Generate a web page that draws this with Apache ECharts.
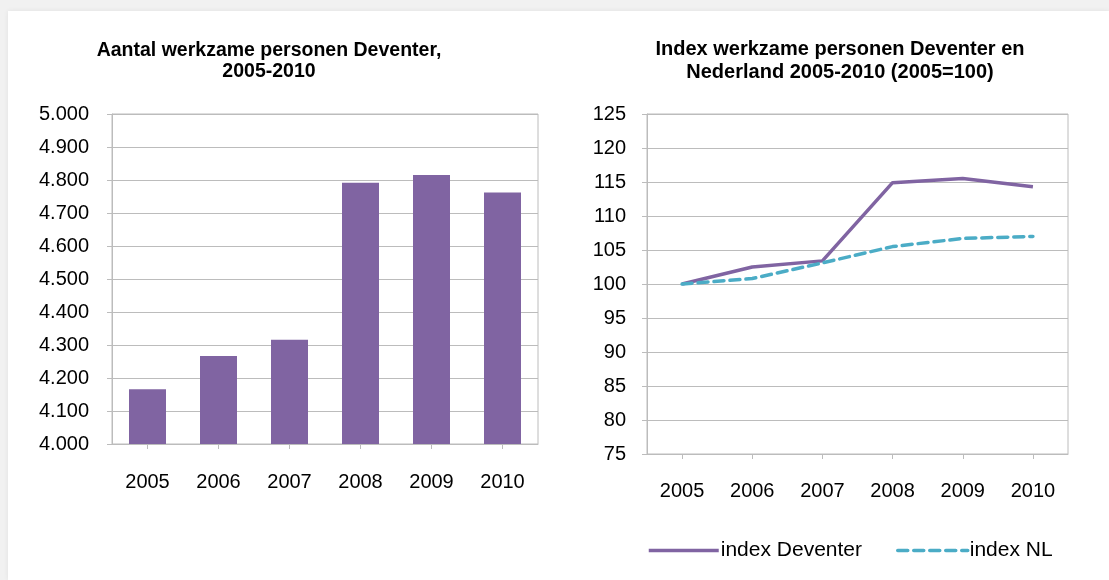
<!DOCTYPE html>
<html>
<head>
<meta charset="utf-8">
<script src="https://cdn.jsdelivr.net/npm/echarts@6/dist/echarts.min.js"></script>
<style>
  html, body { margin: 0; padding: 0; width: 1109px; height: 580px; background: #f1f1f1; overflow: hidden; }
  #panel { position: absolute; left: 8px; top: 11px; width: 1101px; height: 569px; background: #ffffff; box-shadow: 0 0 5px rgba(0,0,0,0.07); }
  #chart { position: absolute; left: 0; top: 0; width: 1109px; height: 580px; }
</style>
</head>
<body>
<div id="panel"></div>
<div id="chart"></div>
<script>
const years = ['2005', '2006', '2007', '2008', '2009', '2010'];
const werkzamePersonen = [4166, 4267, 4316, 4792, 4815, 4762];
const indexDeventer = [100, 102.5, 103.4, 114.9, 115.5, 114.3];
const indexNL = [100, 100.8, 103.1, 105.5, 106.7, 107.0];
const leftTitle = 'Aantal werkzame personen Deventer,\n2005-2010';
const rightTitle = 'Index werkzame personen Deventer en\nNederland 2005-2010 (2005=100)';

const FONT = 'Liberation Sans, Arial, sans-serif';
const gridGray = '#bcbcbc';
const purple = '#8064a2';
const teal = '#4bacc6';

function fmtThousands(v) {
  const k = Math.floor(v / 1000);
  const r = String(Math.round(v % 1000)).padStart(3, '0');
  return k + '.' + r;
}

const chart = echarts.init(document.getElementById('chart'), null, { renderer: 'canvas' });

const catAxisCommon = {
  type: 'category',
  boundaryGap: true,
  axisLine: { show: true, lineStyle: { color: gridGray, width: 1 } },
  axisTick: { show: true, alignWithLabel: true, length: 5, lineStyle: { color: gridGray } },
  axisLabel: { color: '#000', fontSize: 20, fontFamily: FONT, margin: 28 },
  splitLine: { show: false }
};
const valAxisCommon = {
  type: 'value',
  axisLine: { show: true, lineStyle: { color: gridGray, width: 1 } },
  axisTick: { show: true, length: 5, lineStyle: { color: gridGray } },
  splitLine: { show: true, lineStyle: { color: gridGray, width: 1 } },
  axisLabel: { color: '#000', fontSize: 20, fontFamily: FONT, margin: 22 }
};

chart.setOption({
  animation: false,
  backgroundColor: 'transparent',
  graphic: [
    {
      type: 'text', x: 269, y: 40,
      style: { text: leftTitle, fill: '#000', font: 'bold 19.5px ' + FONT, textAlign: 'center', lineHeight: 21 }
    },
    {
      type: 'text', x: 840, y: 38,
      style: { text: rightTitle, fill: '#000', font: 'bold 20px ' + FONT, textAlign: 'center', lineHeight: 23 }
    }
  ],
  grid: [
    { left: 112, top: 114, width: 426, height: 330, show: true, borderColor: gridGray, borderWidth: 1, containLabel: false },
    { left: 647, top: 114, width: 421, height: 340, show: true, borderColor: gridGray, borderWidth: 1, containLabel: false }
  ],
  xAxis: [
    Object.assign({}, catAxisCommon, { gridIndex: 0, data: years }),
    Object.assign({}, catAxisCommon, { gridIndex: 1, data: years, axisLabel: Object.assign({}, catAxisCommon.axisLabel, { margin: 27 }) })
  ],
  yAxis: [
    Object.assign({}, valAxisCommon, {
      gridIndex: 0, min: 4000, max: 5000, interval: 100,
      axisLabel: Object.assign({}, valAxisCommon.axisLabel, { formatter: fmtThousands, margin: 23 })
    }),
    Object.assign({}, valAxisCommon, { gridIndex: 1, min: 75, max: 125, interval: 5, axisLabel: Object.assign({}, valAxisCommon.axisLabel, { margin: 21 }) })
  ],
  legend: {
    show: true,
    left: 642, top: 535,
    itemWidth: 70, itemHeight: 14, itemGap: 34,
    itemStyle: { opacity: 0 },
    lineStyle: { width: 3.5 },
    textStyle: { color: '#000', fontSize: 21, fontFamily: FONT, padding: [0, 0, 0, -3] },
    data: ['index Deventer', 'index NL']
  },
  series: [
    {
      name: 'werkzame personen', type: 'bar', xAxisIndex: 0, yAxisIndex: 0,
      data: werkzamePersonen, barWidth: 37,
      itemStyle: { color: purple }
    },
    {
      name: 'index Deventer', type: 'line', xAxisIndex: 1, yAxisIndex: 1,
      data: indexDeventer, symbol: 'none', showSymbol: false,
      lineStyle: { color: purple, width: 3.5 }, itemStyle: { color: purple }
    },
    {
      name: 'index NL', type: 'line', xAxisIndex: 1, yAxisIndex: 1,
      data: indexNL, symbol: 'none', showSymbol: false,
      lineStyle: { color: teal, width: 3.5, type: [10, 6], cap: 'round' }, itemStyle: { color: teal }
    }
  ]
});
</script>
</body>
</html>
